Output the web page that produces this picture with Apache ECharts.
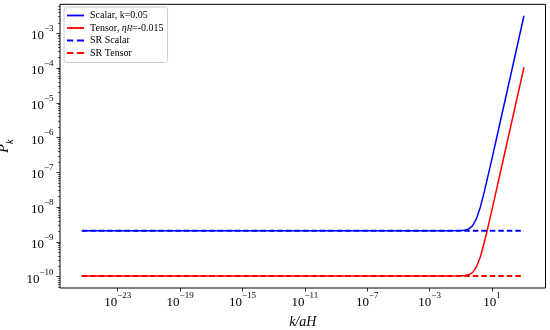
<!DOCTYPE html>
<html>
<head>
<meta charset="utf-8">
<script src="https://cdn.jsdelivr.net/npm/echarts@6/dist/echarts.min.js"></script>
<style>
html,body{margin:0;padding:0;background:#fff;}
#chart{width:550px;height:330px;}
</style>
</head>
<body>
<div id="chart"></div>
<script>
// ---- data ----
const kOverAH = [5.0e-26, 1e-20, 1e-15, 1e-10, 1e-5, 1e-2, 0.1, 0.178, 0.316, 0.562, 1, 1.78, 3.16, 5.62, 10, 31.6, 100, 316, 1120];
const scalarP = [2.1e-9, 2.1e-9, 2.1e-9, 2.1e-9, 2.1e-9, 2.1e-9, 2.13e-9, 2.18e-9, 2.35e-9, 2.9e-9, 4.6e-9, 1.0e-8, 2.7e-8, 8.2e-8, 2.5e-7, 2.5e-6, 2.5e-5, 2.5e-4, 3.2e-3];
const tensorP = [1.05e-10, 1.05e-10, 1.05e-10, 1.05e-10, 1.05e-10, 1.05e-10, 1.06e-10, 1.08e-10, 1.13e-10, 1.31e-10, 1.9e-10, 3.7e-10, 9.5e-10, 2.76e-9, 8.5e-9, 8.4e-8, 8.4e-7, 8.4e-6, 1.05e-4];
const srK = [5.0e-26, 1.12e3];
const srScalar = [2.1e-9, 2.1e-9];
const srTensor = [1.05e-10, 1.05e-10];
const xTickExps = [-23, -19, -15, -11, -7, -3, 1];
const yTickExps = [-10, -9, -8, -7, -6, -5, -4, -3];
const seriesNames = ['Scalar, k=0.05', 'Tensor, ηH=-0.015', 'SR Scalar', 'SR Tensor'];

// ---- build ----
const L = Math.log10;
const pairs = (xs, ys) => xs.map((x, i) => [L(x), L(ys[i])]);
const yMinor = [];
for (let n = -11; n <= -2; n++) for (let m = 2; m <= 9; m++) {
  const v = n + L(m);
  if (v > -10.325 && v < -2.166) yMinor.push(v);
}
const serif = 'Liberation Serif';
const supText = v => (v < 0 ? '\u2212' : '') + Math.abs(v);
const expFmt = v => '{b|10}{s|' + supText(v) + '}';
const expRich = {
  b: {fontFamily: serif, fontSize: 13, color: '#000', lineHeight: 18, verticalAlign: 'bottom'},
  s: {fontFamily: serif, fontSize: 9, color: '#000', lineHeight: 10, verticalAlign: 'top'}
};
const solidIcon = 'path://M0,0h19v2h-19z';
const dashIcon = 'path://M0,0h7v2h-7z M11,0h8v2h-8z';

const chart = echarts.init(document.getElementById('chart'), null, {renderer: 'canvas'});
chart.setOption({
  animation: false,
  backgroundColor: '#fff',
  grid: {left: 60, right: 4.5, top: 4.3, bottom: 42, outerBoundsMode: 'none', containLabel: false, show: true, borderColor: '#000', borderWidth: 1, backgroundColor: 'transparent'},
  legend: {
    orient: 'vertical', left: 64, top: 7,
    data: [
      {name: seriesNames[0], icon: solidIcon},
      {name: seriesNames[1], icon: solidIcon},
      {name: seriesNames[2], icon: dashIcon},
      {name: seriesNames[3], icon: dashIcon}
    ],
    itemWidth: 19, itemHeight: 1.8, itemGap: 1.5,
    padding: [3, 4, 4, 3],
    backgroundColor: '#fff', borderColor: '#cccccc', borderWidth: 1, borderRadius: 3,
    textStyle: {
      fontFamily: serif, fontSize: 10, color: '#000', padding: [0, 0, 0, 0], lineHeight: 11,
      rich: {
        t: {fontFamily: serif, fontSize: 10, color: '#000', lineHeight: 11},
        i: {fontFamily: serif, fontSize: 10, fontStyle: 'italic', color: '#000', lineHeight: 11},
        sub: {fontFamily: serif, fontSize: 7.5, fontStyle: 'italic', color: '#000', verticalAlign: 'bottom', lineHeight: 8}
      }
    },
    formatter: name => name.indexOf('η') >= 0 ? '{t|Tensor, }{i|η}{sub|H}{t|=-0.015}' : name
  },
  xAxis: {
    type: 'value', min: -26.7, max: 4.43,
    axisLine: {show: false, onZero: false},
    splitLine: {show: false},
    axisTick: {show: true, length: 3.5, lineStyle: {color: '#000', width: 0.8}, customValues: xTickExps},
    axisLabel: {customValues: xTickExps, formatter: expFmt, rich: expRich, margin: 3, fontFamily: serif, fontSize: 13},
    name: '{v|k/aH}', nameLocation: 'middle', nameGap: 27,
    nameTextStyle: {rich: {v: {fontFamily: serif, fontStyle: 'italic', fontSize: 14, color: '#000'}}}
  },
  yAxis: [{
    type: 'value', min: -10.325, max: -2.166, position: 'left',
    axisLine: {show: false, onZero: false},
    splitLine: {show: false},
    axisTick: {show: true, length: 3.5, lineStyle: {color: '#000', width: 0.8}, customValues: yTickExps},
    axisLabel: {customValues: yTickExps, formatter: expFmt, rich: expRich, margin: 6.5, fontFamily: serif, fontSize: 13, align: 'right'},
    name: '{p|P}{k|k}', nameLocation: 'middle', nameGap: 37,
    nameTextStyle: {rich: {
      p: {fontFamily: serif, fontStyle: 'italic', fontSize: 14, color: '#000', lineHeight: 18, verticalAlign: 'top'},
      k: {fontFamily: serif, fontStyle: 'italic', fontSize: 10, color: '#000', lineHeight: 12, verticalAlign: 'bottom'}
    }}
  }, {
    type: 'value', min: -10.325, max: -2.166, position: 'left',
    axisLine: {show: false, onZero: false}, splitLine: {show: false},
    axisLabel: {show: false},
    axisTick: {show: true, length: 2, lineStyle: {color: '#000', width: 0.6}, customValues: yMinor}
  }],
  series: [
    {name: seriesNames[0], type: 'line', data: pairs(kOverAH, scalarP), showSymbol: false, symbol: 'none',
     lineStyle: {color: '#0000ff', width: 1.5}, itemStyle: {color: '#0000ff'}},
    {name: seriesNames[1], type: 'line', data: pairs(kOverAH, tensorP), showSymbol: false, symbol: 'none',
     lineStyle: {color: '#ff0000', width: 1.5}, itemStyle: {color: '#ff0000'}},
    {name: seriesNames[2], type: 'line', data: pairs(srK, srScalar), showSymbol: false, symbol: 'none',
     lineStyle: {color: '#0000ff', width: 2, type: [5.5, 3]}, itemStyle: {color: '#0000ff'}},
    {name: seriesNames[3], type: 'line', data: pairs(srK, srTensor), showSymbol: false, symbol: 'none',
     lineStyle: {color: '#ff0000', width: 2, type: [5.5, 3]}, itemStyle: {color: '#ff0000'}}
  ]
});
</script>
</body>
</html>
